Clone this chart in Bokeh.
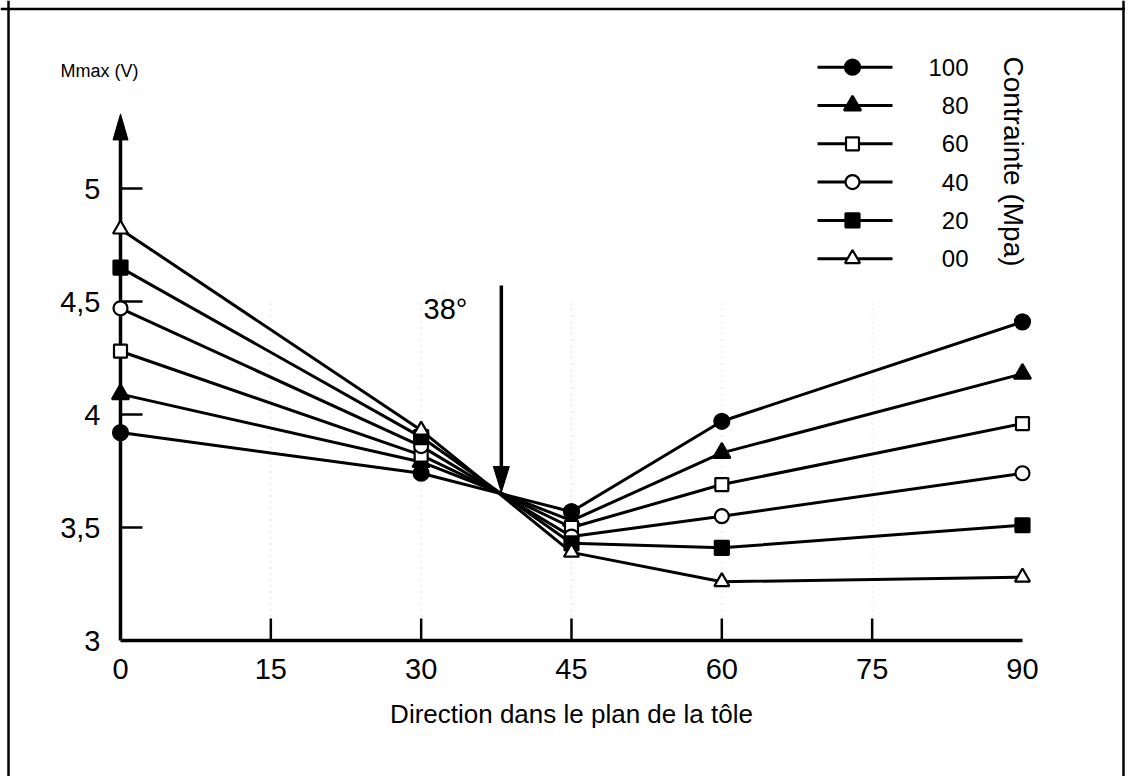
import math
from bokeh.plotting import figure
from bokeh.models import Range1d, Span
from bokeh.core.properties import value
from bokeh.embed import file_html
from bokeh.resources import INLINE

# ---------------- data ----------------
directions = [0, 30, 45, 60, 90]
stress_levels = ["100", "80", "60", "40", "20", "00"]
mmax_100 = [3.92, 3.74, 3.57, 3.97, 4.41]
mmax_80 = [4.09, 3.79, 3.53, 3.83, 4.18]
mmax_60 = [4.28, 3.82, 3.50, 3.69, 3.96]
mmax_40 = [4.47, 3.86, 3.46, 3.55, 3.74]
mmax_20 = [4.65, 3.90, 3.43, 3.41, 3.51]
mmax_00 = [4.82, 3.93, 3.39, 3.26, 3.28]
x_ticks = [0, 15, 30, 45, 60, 75, 90]
x_tick_labels = ["0", "15", "30", "45", "60", "75", "90"]
y_ticks = [3, 3.5, 4, 4.5, 5]
y_tick_labels = ["3", "3,5", "4", "4,5", "5"]
crossing_direction = 38
crossing_value = 3.655
crossing_label = "38°"
y_axis_top = 5.33
x_title = "Direction dans le plan de la tôle"
y_title = "Mmax (V)"
legend_title = "Contrainte (Mpa)"

series = [mmax_100, mmax_80, mmax_60, mmax_40, mmax_20, mmax_00]

# ---------------- layout ----------------
W, H = 1125, 776
X0, XS = 120.0, 10.022   # px of direction 0, px per degree
Y0, YS = 640.0, 226.0    # px of Mmax 3, px per volt
FONT = value("Liberation Sans")


def data_x(px):
    return (px - X0) / XS


def data_y(py):
    return 3 + (Y0 - py) / YS


def dx(px):
    return px / XS


def dy(px):
    return px / YS


p = figure(width=W, height=H,
           x_range=Range1d(data_x(0), data_x(W)),
           y_range=Range1d(data_y(H), data_y(0)),
           x_axis_type=None, y_axis_type=None,
           output_backend="svg", toolbar_location=None, min_border=0)
p.grid.visible = False
p.outline_line_color = None
p.background_fill_color = "white"
p.border_fill_color = "white"

# page frame
for loc, dim in [(data_x(8), "height"), (data_x(1123), "height"), (data_y(8.5), "width")]:
    p.add_layout(Span(location=loc, dimension=dim, line_color="black", line_width=2.5))

# faint dotted grid
grid_x = x_ticks[1:-1]
p.segment(x0=grid_x, y0=[y_ticks[0]] * len(grid_x), x1=grid_x,
          y1=[4.5] * len(grid_x), line_color="#c4c4c4", line_width=1, line_dash="1 5")

# axes
p.segment(x0=[x_ticks[0]], y0=[y_ticks[0]], x1=[x_ticks[-1]], y1=[y_ticks[0]],
          line_color="black", line_width=3.5)
p.segment(x0=[x_ticks[0]], y0=[y_ticks[0]], x1=[x_ticks[0]], y1=[y_axis_top - dy(10)],
          line_color="black", line_width=3.5)
p.patch(x=[x_ticks[0] - dx(7.5), x_ticks[0], x_ticks[0] + dx(7.5)],
        y=[y_axis_top - dy(26), y_axis_top, y_axis_top - dy(26)],
        fill_color="black", line_color="black")
xt = x_ticks[1:-1]
p.segment(x0=xt, y0=[y_ticks[0]] * len(xt), x1=xt, y1=[y_ticks[0] + dy(22)] * len(xt),
          line_color="black", line_width=2.5)
yt = y_ticks[1:]
p.segment(x0=[x_ticks[0]] * len(yt), y0=yt, x1=[x_ticks[0] + dx(22)] * len(yt), y1=yt,
          line_color="black", line_width=2.5)

# tick labels
p.text(x=x_ticks, y=[y_ticks[0] - dy(28)] * len(x_ticks), text=x_tick_labels,
       text_font=FONT, text_font_size=value("29px"), text_align="center",
       text_baseline="middle", text_color="black")
p.text(x=[x_ticks[0] - dx(20)] * len(y_ticks), y=y_ticks, text=y_tick_labels,
       text_font=FONT, text_font_size=value("29px"), text_align="right",
       text_baseline="middle", text_color="black")

# axis titles
p.text(x=[(x_ticks[0] + x_ticks[-1]) / 2], y=[y_ticks[0] - dy(73.5)], text=[x_title],
       text_font=FONT, text_font_size=value("26px"), text_align="center",
       text_baseline="middle", text_color="black")
p.text(x=[data_x(60)], y=[data_y(70)], text=[y_title],
       text_font=FONT, text_font_size=value("18px"), text_align="left",
       text_baseline="middle", text_color="black")

# 38 degree arrow
arrow_top = data_y(285)
p.segment(x0=[crossing_direction], y0=[arrow_top], x1=[crossing_direction],
          y1=[crossing_value + dy(15)], line_color="black", line_width=3.5)
p.patch(x=[crossing_direction - dx(8), crossing_direction, crossing_direction + dx(8)],
        y=[crossing_value + dy(26), crossing_value, crossing_value + dy(26)],
        fill_color="black", line_color="black")
p.text(x=[data_x(423)], y=[data_y(308)], text=[crossing_label],
       text_font=FONT, text_font_size=value("29px"), text_align="left",
       text_baseline="middle", text_color="black")

# marker styles
styles = [
    dict(marker="circle", size=15, fill_color="black"),
    dict(marker="triangle", size=17, fill_color="black"),
    dict(marker="square", size=13, fill_color="white"),
    dict(marker="circle", size=14, fill_color="white"),
    dict(marker="square", size=14, fill_color="black"),
    dict(marker="triangle", size=15, fill_color="white"),
]

for vals in series:
    p.line(directions, vals, line_color="black", line_width=3)
for vals, st in zip(series, styles):
    p.scatter(directions, vals, line_color="black", line_width=2.2, **st)

# legend
legend_x0, legend_x1, legend_xm, legend_tx = data_x(817), data_x(892), data_x(852), data_x(968)
for i, (lab, st) in enumerate(zip(stress_levels, styles)):
    ly = data_y(66.7 + 38.3 * i)
    p.segment(x0=[legend_x0], y0=[ly], x1=[legend_x1], y1=[ly], line_color="black", line_width=3)
    p.scatter([legend_xm], [ly], line_color="black", line_width=2.2, **st)
    p.text(x=[legend_tx], y=[ly], text=[lab], text_font=FONT, text_font_size=value("24px"),
           text_align="right", text_baseline="middle", text_color="black")

p.text(x=[data_x(1013)], y=[data_y(161)], text=[legend_title], angle=-math.pi / 2,
       text_font=FONT, text_font_size=value("28px"), text_align="center",
       text_baseline="middle", text_color="black")

open("out.html", "w").write(file_html(p, INLINE))
